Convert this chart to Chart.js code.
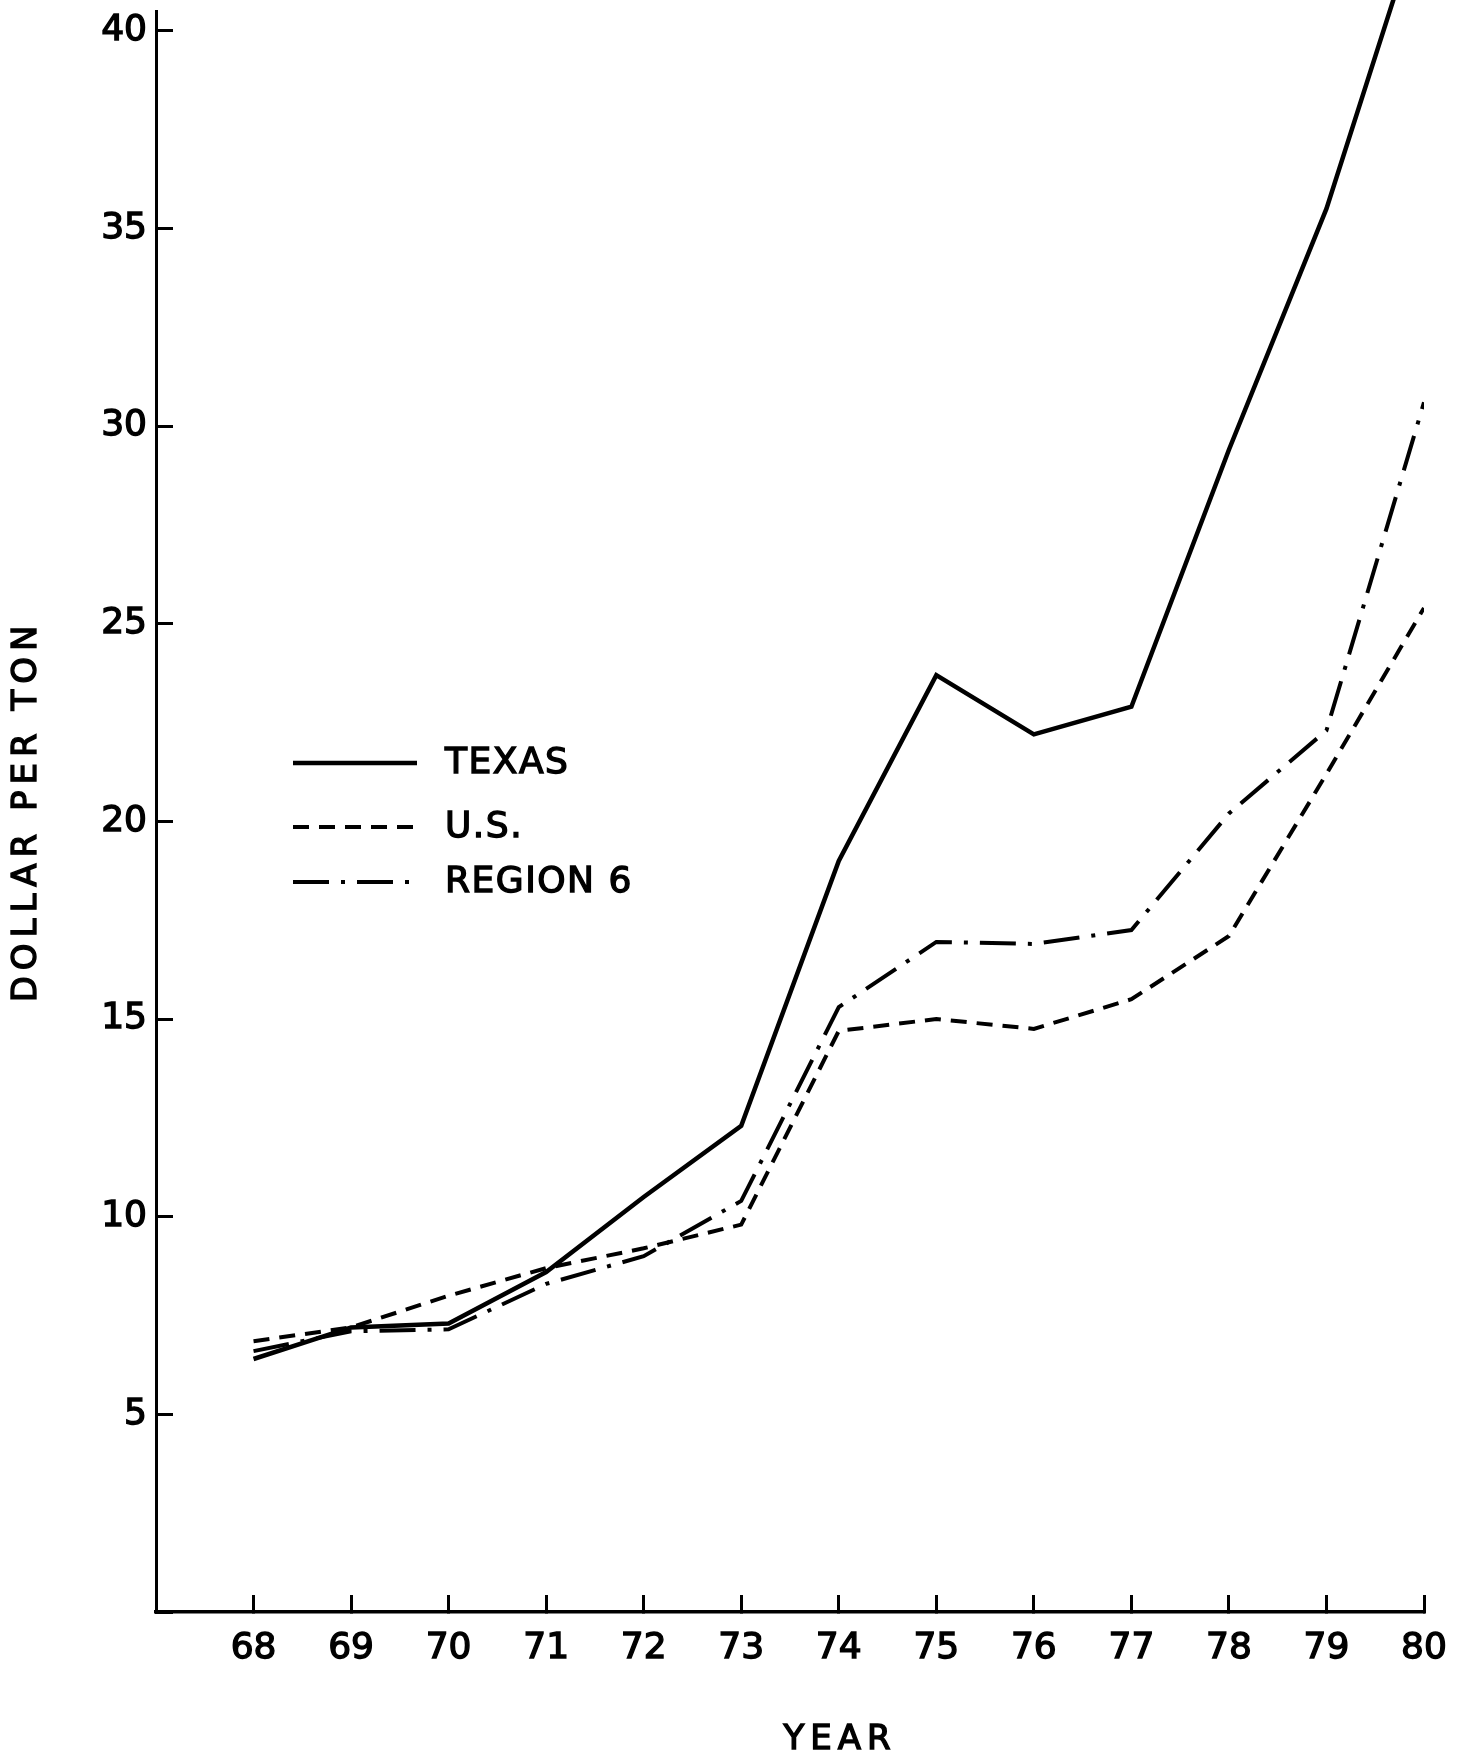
<!DOCTYPE html>
<html>
<head>
<meta charset="utf-8">
<script src="https://cdn.jsdelivr.net/npm/chart.js@4.4.1/dist/chart.umd.min.js"></script>
<style>
  html, body { margin: 0; padding: 0; background: #fff; }
  canvas { display: block; }
</style>
</head>
<body>
<canvas id="chart" width="1467" height="1760"></canvas>
<script>
// values (dollar per ton)
const years = [68, 69, 70, 71, 72, 73, 74, 75, 76, 77, 78, 79, 80];
const texas = [6.4, 7.2, 7.3, 8.6, 10.5, 12.3, 19.0, 23.7, 22.2, 22.9, 29.4, 35.5, 43.2];
const us = [6.85, 7.2, 8.0, 8.7, 9.2, 9.8, 14.7, 15.0, 14.75, 15.5, 17.1, 21.2, 25.4];
const region6 = [6.6, 7.1, 7.15, 8.3, 9.0, 10.4, 15.3, 16.95, 16.9, 17.25, 20.2, 22.3, 30.6];
const yTicks = [5, 10, 15, 20, 25, 30, 35, 40];
const seriesNames = ["TEXAS", "U.S.", "REGION 6"];

const ink = "#000";
Chart.defaults.font.family = '"DejaVu Sans", sans-serif';
Chart.defaults.color = ink;

const points = (vals) => years.map((yr, i) => ({ x: yr, y: vals[i] }));

// lettering-guide look: regular weight with a thin outline
function inkText(ctx, text, x, y) {
  ctx.fillText(text, x, y);
  ctx.strokeText(text, x, y);
}

// axis titles and the legend sit inside the figure, so draw them by hand
const paperTexts = {
  id: "paperTexts",
  afterDraw(chart) {
    const ctx = chart.ctx;
    ctx.save();
    ctx.fillStyle = ink;
    ctx.strokeStyle = ink;
    ctx.lineWidth = 1.4;
    ctx.textBaseline = "middle";

    ctx.font = '34px "DejaVu Sans"';
    ctx.letterSpacing = "6px";
    ctx.textAlign = "center";
    ctx.save();
    ctx.translate(27, 811);
    ctx.rotate(-Math.PI / 2);
    inkText(ctx, "DOLLAR PER TON", 0, 0);
    ctx.restore();
    inkText(ctx, "YEAR", 840, 1740);

    ctx.font = '36px "DejaVu Sans"';
    ctx.letterSpacing = "1.5px";
    ctx.textAlign = "left";
    const rows = [763, 827, 882];
    chart.data.datasets.forEach((ds, i) => {
      const y = rows[i];
      ctx.save();
      ctx.lineWidth = ds.borderWidth;
      ctx.setLineDash(ds.borderDash || []);
      ctx.beginPath();
      ctx.moveTo(293, y);
      ctx.lineTo(417, y);
      ctx.stroke();
      ctx.restore();
      inkText(ctx, ds.label, 445, y + 1);
    });
    ctx.restore();
  },
};

new Chart(document.getElementById("chart"), {
  type: "line",
  data: {
    datasets: [
      {
        label: seriesNames[0],
        data: points(texas),
        borderColor: ink,
        borderWidth: 4.5,
        clip: false,
      },
      {
        label: seriesNames[1],
        data: points(us),
        borderColor: ink,
        borderWidth: 4,
        borderDash: [16, 10],
      },
      {
        label: seriesNames[2],
        data: points(region6),
        borderColor: ink,
        borderWidth: 4,
        borderDash: [36, 12, 4, 12],
      },
    ],
  },
  options: {
    responsive: false,
    animation: false,
    devicePixelRatio: 1,
    layout: { padding: { left: 0, top: 11, right: 43, bottom: 0 } },
    elements: {
      line: { tension: 0, borderCapStyle: "butt", borderJoinStyle: "miter" },
      point: { radius: 0 },
    },
    plugins: {
      legend: { display: false },
      tooltip: { enabled: false },
    },
    scales: {
      x: {
        type: "linear",
        min: 67,
        max: 80,
        afterFit(scale) {
          scale.height = 148;
          scale.paddingLeft = 0;
          scale.paddingRight = 0;
        },
        border: { display: true, color: ink, width: 3.5 },
        grid: {
          drawOnChartArea: false,
          drawTicks: true,
          tickLength: -17,
          tickWidth: 3,
          tickColor: ink,
        },
        ticks: {
          stepSize: 1,
          autoSkip: false,
          maxRotation: 0,
          padding: 32,
          font: { size: 36 },
          textStrokeColor: ink,
          textStrokeWidth: 1.4,
          callback: (v) => (years.includes(v) ? String(v) : ""),
        },
      },
      y: {
        min: 0,
        max: 40.5,
        afterFit(scale) {
          scale.width = 156;
          scale.paddingTop = 0;
          scale.paddingBottom = 0;
        },
        border: { display: true, color: ink, width: 3 },
        grid: {
          drawOnChartArea: false,
          drawTicks: true,
          tickLength: -17,
          tickWidth: 3,
          tickColor: ink,
        },
        ticks: {
          stepSize: 5,
          includeBounds: false,
          padding: 26,
          font: { size: 36 },
          textStrokeColor: ink,
          textStrokeWidth: 1.4,
          callback: (v) => (yTicks.includes(v) ? String(v) : ""),
        },
      },
    },
  },
  plugins: [paperTexts],
});
</script>
</body>
</html>
